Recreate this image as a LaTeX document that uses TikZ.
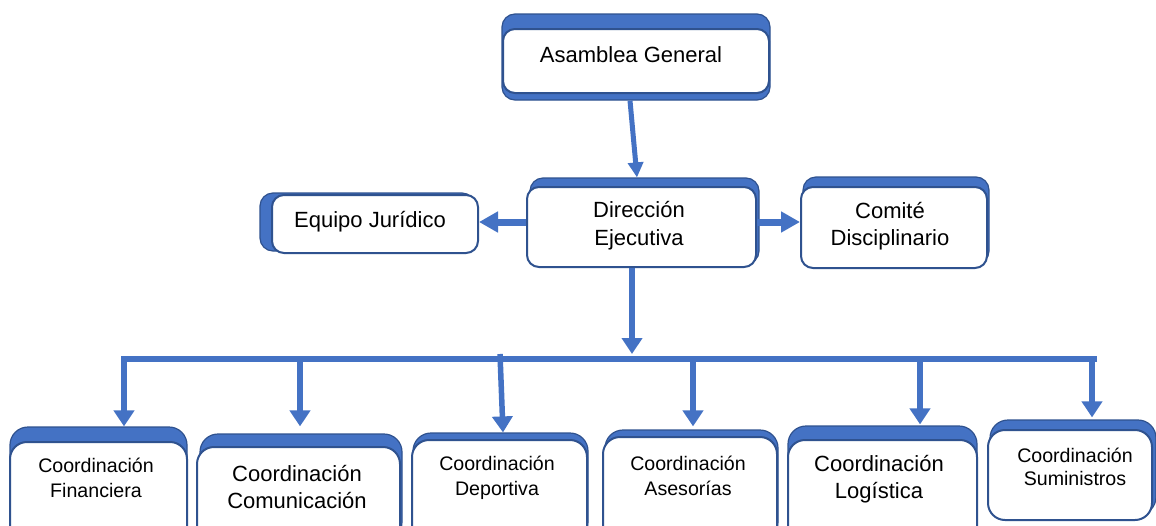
\documentclass[tikz,border=0pt]{standalone}
\usepackage{fontspec}
\setmainfont{Liberation Sans}
\usetikzlibrary{arrows.meta}
\definecolor{arrblue}{HTML}{4472C4}
\definecolor{edgeblue}{HTML}{2F528F}
\tikzset{
  topshadow/.style={draw=edgeblue, fill=arrblue, line width=1.2pt, rounded corners=13pt, inner sep=0pt},
  botshadow/.style={draw=edgeblue, fill=arrblue, line width=1.2pt, rounded corners=18pt, inner sep=0pt},
  topbox/.style={draw=edgeblue, fill=white, line width=2pt, rounded corners=12pt, inner sep=0pt},
  botbox/.style={draw=edgeblue, fill=white, line width=2pt, rounded corners=17pt, inner sep=0pt},
  txtL/.style={font=\fontsize{22}{28}\selectfont, align=center, inner sep=0pt},
  txtM/.style={font=\fontsize{22}{27}\selectfont, align=center, inner sep=0pt},
  txtS/.style={font=\fontsize{19.6}{25}\selectfont, align=center, inner sep=0pt},
  arrv/.style={draw=arrblue, line width=5.5pt, -{Triangle[width=20pt,length=16pt]}},
  arrthin/.style={draw=arrblue, line width=5pt, -{Triangle[width=15pt,length=15pt]}},
  arrh/.style={draw=arrblue, line width=7pt, -{Triangle[width=20pt,length=19pt]}},
}
\begin{document}
\begin{tikzpicture}[x=1pt,y=-1pt]
\useasboundingbox (0,0) rectangle (1156,525);
\begin{scope}
\clip (0,0) rectangle (1156,525);
\fill[white] (0,0) rectangle (1156,525);

% top level
\node[topshadow, minimum width=268pt, minimum height=86pt] (ag-s) at (636,57) {};
\node[topbox, minimum width=266pt, minimum height=64pt] (ag) at (636,61) {};
\node[txtL] (ag-t) at (631,55) {Asamblea General};

% second level
\node[topshadow, minimum width=229pt, minimum height=86pt] (de-s) at (644.5,221) {};
\node[topbox, minimum width=229pt, minimum height=80pt] (de) at (641.5,227) {};
\node[txtL] (de-t) at (639,226) {Dirección\\Ejecutiva};

\node[topshadow, minimum width=215pt, minimum height=58pt] (ej-s) at (367.5,222) {};
\node[topbox, minimum width=206pt, minimum height=58pt] (ej) at (375,224) {};
\node[txtL] (ej-t) at (370,222) {Equipo Jurídico};

\node[topshadow, minimum width=186pt, minimum height=87pt] (cd-s) at (896,220.5) {};
\node[topbox, minimum width=186pt, minimum height=81pt] (cd) at (894,227.5) {};
\node[txtL, font=\fontsize{22}{27}\selectfont] (cd-t) at (890,226) {Comité\\Disciplinario};

% bottom level
\node[botshadow, minimum width=177pt, minimum height=113pt] (fi-s) at (98.5,483.5) {};
\node[botbox, minimum width=177pt, minimum height=103pt] (fi) at (98.5,493.5) {};
\node[txtS] (fi-t) at (96,478) {Coordinación\\Financiera};

\node[botshadow, minimum width=202pt, minimum height=106pt] (co-s) at (301,487) {};
\node[botbox, minimum width=203pt, minimum height=98pt] (co) at (298.5,496) {};
\node[txtM] (co-t) at (297,487) {Coordinación\\Comunicación};

\node[botshadow, minimum width=175pt, minimum height=107pt] (dp-s) at (500.5,486.5) {};
\node[botbox, minimum width=175pt, minimum height=105pt] (dp) at (499.5,492.5) {};
\node[txtS] (dp-t) at (497,478) {Coordinación\\Deportiva};

\node[botshadow, minimum width=173pt, minimum height=110pt] (as-s) at (691.5,485) {};
\node[botbox, minimum width=174pt, minimum height=108pt] (as) at (690,491) {};
\node[txtS] (as-t) at (688,476) {Coordinación\\Asesorías};

\node[botshadow, minimum width=189pt, minimum height=114pt] (lo-s) at (882.5,483) {};
\node[botbox, minimum width=189pt, minimum height=105pt] (lo) at (882.5,492.5) {};
\node[txtM] (lo-t) at (879,479) {Coordinación\\Logística};

\node[botshadow, minimum width=166pt, minimum height=95pt] (su-s) at (1073,467.5) {};
\node[botbox, minimum width=164pt, minimum height=90pt] (su) at (1070,475) {};
\node[txtS, font=\fontsize{19.6}{23}\selectfont] (su-t) at (1075,467) {Coordinación\\Suministros};

% connectors
\draw[arrthin] ([xshift=-6pt]ag-s.south) -- ([xshift=-7.5pt]de-s.north);
\draw[arrh] ([yshift=5pt]de.west) -- ([yshift=5pt]de.west -| ej.east);
\draw[arrh] ([yshift=5pt]de.east) -- ([yshift=5pt]de.east -| cd.west);

\coordinate (hub) at (632,359);
\coordinate (bend) at (1097,359);
\coordinate (b1) at (124,359);
\coordinate (b2) at (300,359);
\coordinate (b3) at (500,359);
\coordinate (b4) at (693,359);
\coordinate (b5) at (920,359);
\coordinate (b6) at (1092,359);

\draw[arrv, line width=6pt] (hub |- de.south) -- ([yshift=5pt]hub);
\draw[arrv, line width=6pt, line join=miter] (bend) -- (b1) -- (b1 |- fi-s.north);
\draw[arrv, shorten >=7pt] (b2) -- (b2 |- co-s.north);
\draw[arrv] ([yshift=5pt]b3) -- ([xshift=3pt]b3 |- dp-s.north);
\draw[arrv, shorten >=3pt] (b4) -- (b4 |- as-s.north);
\draw[arrv, shorten >=1pt] (b5) -- (b5 |- lo-s.north);
\draw[arrv, shorten >=2pt] (b6) -- (b6 |- su-s.north);
\end{scope}
\end{tikzpicture}
\end{document}
